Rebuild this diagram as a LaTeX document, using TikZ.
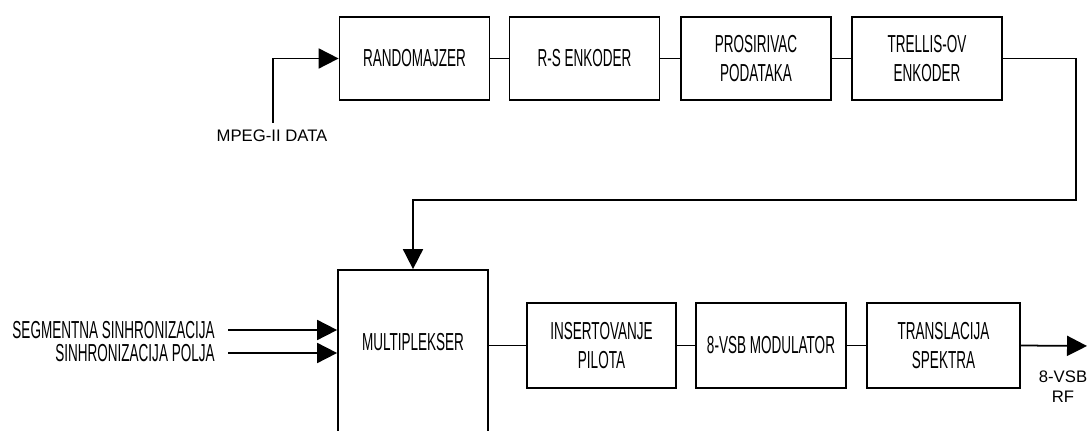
\documentclass[tikz,border=0pt]{standalone}
\usepackage{fontspec}
\usepackage{tikz}
\usetikzlibrary{arrows.meta}
\newfontfamily\boxfont[FakeStretch=0.55]{Liberation Sans}
\newfontfamily\labelfont{Liberation Sans}
\tikzset{
  blok/.style={draw, line width=1pt, minimum width=3cm, minimum height=1.66cm,
    align=center, font=\boxfont\fontsize{14}{16}\selectfont},
  blokxt/.style={align=right, font=\boxfont\fontsize{14}{16}\selectfont},
  oznaka/.style={align=center, font=\labelfont\fontsize{9.5}{11.3}\selectfont},
  strelica/.style={line width=1pt, -{Triangle[length=0.4cm,width=0.4cm]}},
  veza/.style={line width=1pt}
}

\begin{document}
\begin{tikzpicture}[x=0.02cm, y=-0.02cm]
  \clip (0,0) rectangle (1087,431);
  % gornji red
  \node[blok] (rand) at (414.5,58.5) {RANDOMAJZER};
  \node[blok] (rs)   at (584.5,58.5) {R-S ENKODER};
  \node[blok] (pros) at (756,58.5)   {PROSIRIVAC\\PODATAKA};
  \node[blok] (trel) at (927,58.5)   {TRELLIS-OV\\ENKODER};
  \draw[veza] (rand) -- (rs);
  \draw[veza] (rs) -- (pros);
  \draw[veza] (pros) -- (trel);

  \coordinate (mpeg) at (273,123);
  \node[oznaka] (mpeglbl) at (272,136) {MPEG-II DATA};
  \draw[strelica] (mpeg) |- (rand.west);

  % multiplekser
  \node[blok, minimum height=3.6cm] (mux) at (413,360) {};
  \node[blokxt] (muxtxt) at (413,342) {MULTIPLEKSER};
  \coordinate (skret) at (1076,200);
  \draw[strelica] (trel.east) -| (skret) -| (mux.north);

  \node[blokxt, anchor=east, inner xsep=0.26cm] (seg) at (228,330) {SEGMENTNA SINHRONIZACIJA};
  \node[blokxt, anchor=east, inner xsep=0.26cm] (polje) at (228,353) {SINHRONIZACIJA POLJA};
  \draw[strelica] (seg.east) -- (seg.east -| mux.west);
  \draw[strelica] (polje.east) -- (polje.east -| mux.west);

  % donji red
  \node[blok, minimum width=2.98cm, minimum height=1.7cm] (ins) at (601.5,345.5) {INSERTOVANJE\\PILOTA};
  \node[blok, minimum height=1.7cm] (mod) at (771,345.5) {8-VSB MODULATOR};
  \node[blok, minimum width=3.06cm, minimum height=1.7cm] (tra) at (943.5,345.5) {TRANSLACIJA\\SPEKTRA};
  \draw[veza] (ins.west -| mux.east) -- (ins.west);
  \draw[veza] (ins) -- (mod);
  \draw[veza] (mod) -- (tra);

  \coordinate (izlaz) at (1087,346);
  \draw[strelica] (tra.east) -- (izlaz);
  \node[oznaka] (rf) at (1063,387) {8-VSB\\RF};
\end{tikzpicture}
\end{document}
